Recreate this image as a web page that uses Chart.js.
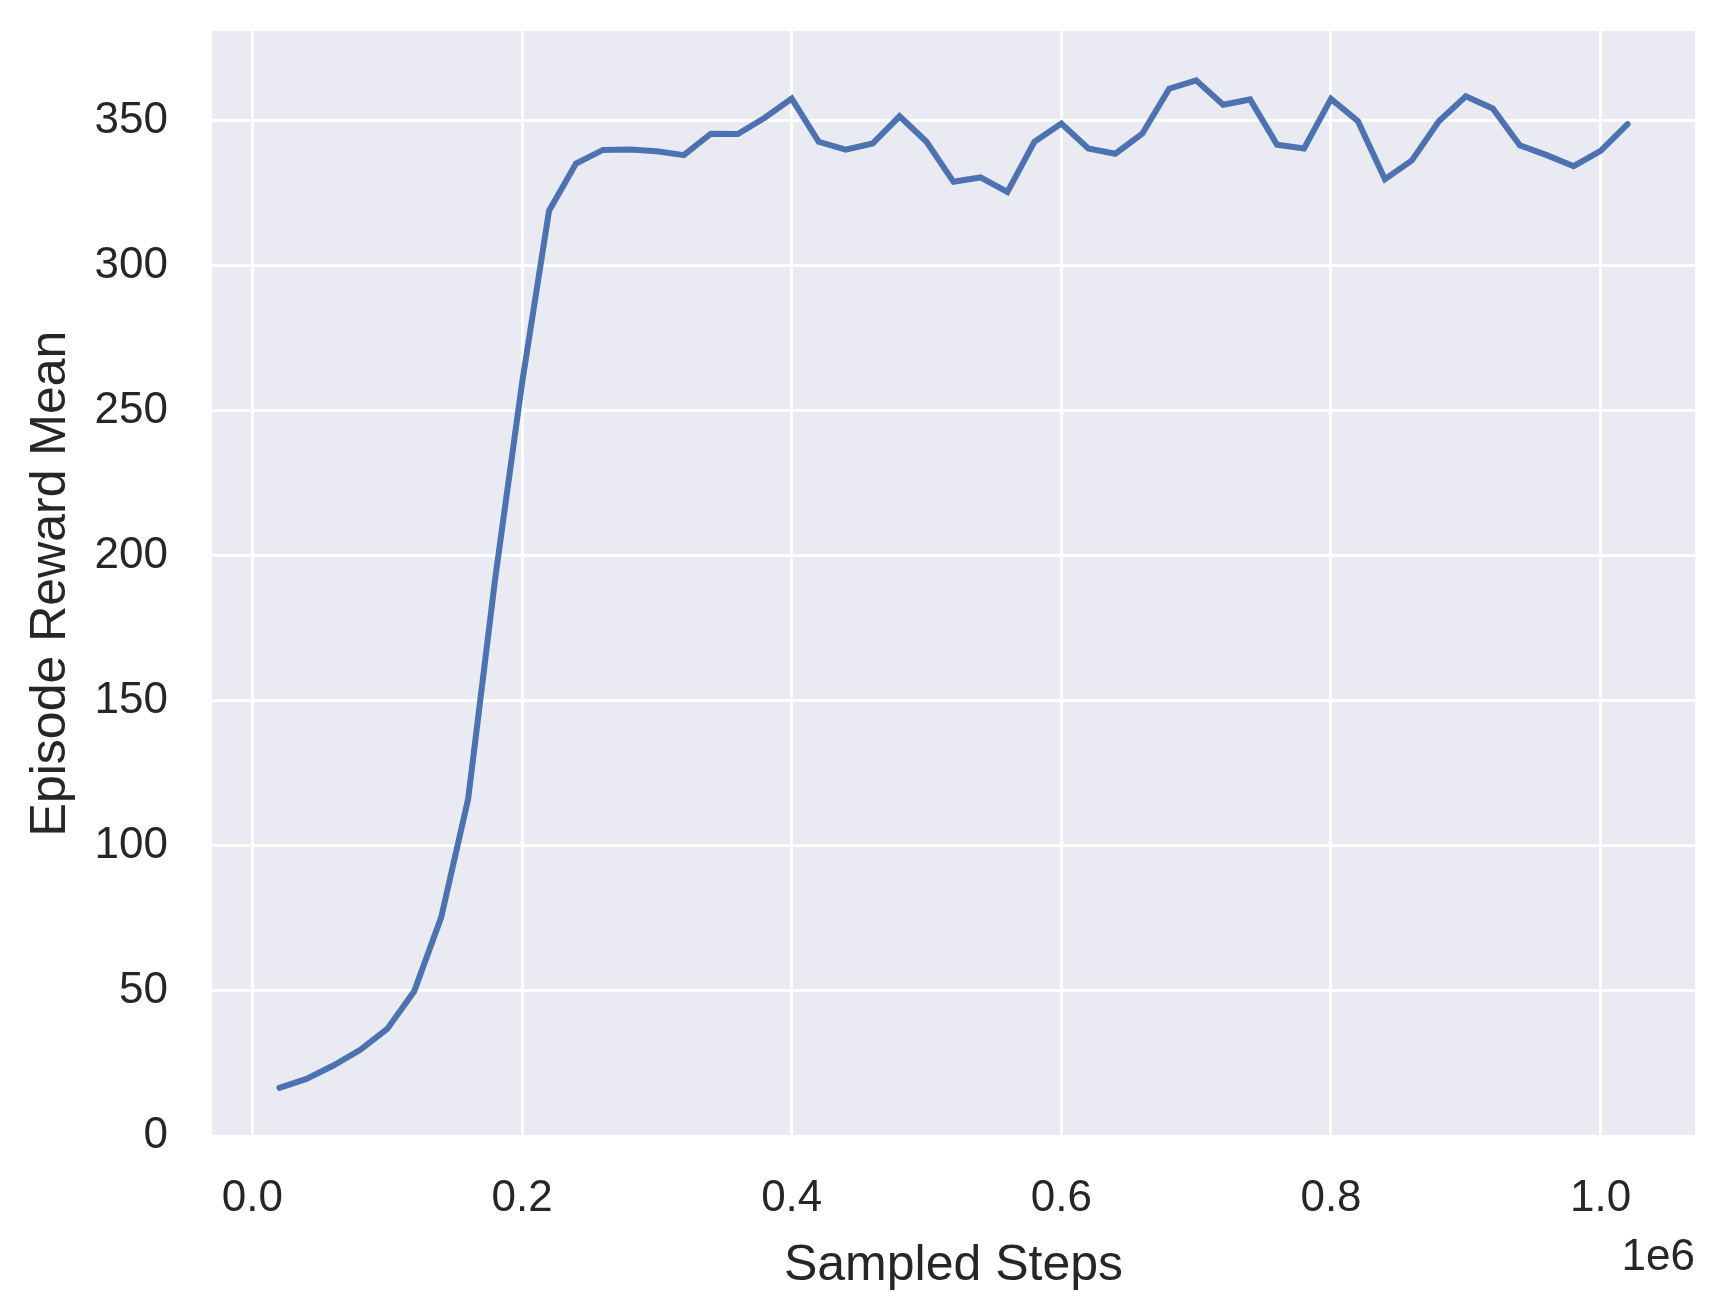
<!DOCTYPE html>
<html>
<head>
<meta charset="utf-8">
<script src="https://cdn.jsdelivr.net/npm/chart.js@4.4.1/dist/chart.umd.min.js"></script>
<style>
  html, body { margin: 0; padding: 0; background: #ffffff; }
  #wrap { width: 1726px; height: 1314px; }
</style>
</head>
<body>
<div id="wrap"><canvas id="c" width="1726" height="1314"></canvas></div>
<script>
// ---- data ----
const sampledSteps = [
  20000, 40000, 60000, 80000, 100000, 120000, 140000, 160000, 180000, 200000,
  220000, 240000, 260000, 280000, 300000, 320000, 340000, 360000, 380000, 400000,
  420000, 440000, 460000, 480000, 500000, 520000, 540000, 560000, 580000, 600000,
  620000, 640000, 660000, 680000, 700000, 720000, 740000, 760000, 780000, 800000,
  820000, 840000, 860000, 880000, 900000, 920000, 940000, 960000, 980000, 1000000,
  1020000
];
const episodeRewardMean = [
  16.6, 19.7, 24.3, 29.7, 36.9, 49.9, 75.4, 116.2, 192.0, 259.7,
  319.0, 335.3, 340.0, 340.1, 339.5, 338.2, 345.6, 345.5, 351.1, 357.7,
  342.8, 340.1, 342.2, 351.6, 342.8, 329.0, 330.5, 325.5, 342.8, 349.1,
  340.5, 338.7, 345.6, 361.1, 364.0, 355.6, 357.4, 341.8, 340.5, 357.6,
  349.9, 329.9, 336.4, 349.9, 358.5, 354.3, 341.6, 338.2, 334.4, 339.7,
  348.9
];
const xTickValues = [0, 200000, 400000, 600000, 800000, 1000000];
const yTickValues = [0, 50, 100, 150, 200, 250, 300, 350];
const xAxisTitle = 'Sampled Steps';
const yAxisTitle = 'Episode Reward Mean';
const xOffsetText = '1e6';

// ---- styling ----
const FONT = '"Liberation Sans", Arial, "DejaVu Sans", sans-serif';
const TEXT = '#262626';

const bgPlugin = {
  id: 'bg',
  beforeDraw(chart) {
    const { ctx, chartArea: a } = chart;
    ctx.save();
    ctx.fillStyle = '#EAEAF2';
    ctx.fillRect(a.left, a.top, a.right - a.left, a.bottom - a.top);
    ctx.restore();
  },
  afterDraw(chart) {
    const { ctx, chartArea: a } = chart;
    ctx.save();
    ctx.font = '44px ' + FONT;
    ctx.fillStyle = TEXT;
    ctx.textAlign = 'right';
    ctx.textBaseline = 'alphabetic';
    ctx.fillText(xOffsetText, a.right, a.bottom + 134);
    ctx.restore();
  }
};

function noPad(scale) {
  scale.paddingTop = 0;
  scale.paddingBottom = 0;
  scale.paddingLeft = 0;
  scale.paddingRight = 0;
}

new Chart(document.getElementById('c'), {
  type: 'line',
  data: {
    datasets: [{
      data: sampledSteps.map((s, i) => ({ x: s, y: episodeRewardMean[i] })),
      borderColor: '#4C72B0',
      borderWidth: 6,
      pointRadius: 0,
      fill: false,
      tension: 0,
      borderCapStyle: 'round',
      borderJoinStyle: 'miter'
    }]
  },
  options: {
    responsive: false,
    devicePixelRatio: 1,
    animation: false,
    layout: { padding: { top: 31, right: 31, left: 0, bottom: 0 } },
    plugins: { legend: { display: false }, tooltip: { enabled: false } },
    scales: {
      x: {
        type: 'linear',
        min: -30000,
        max: 1070000,
        afterBuildTicks(scale) { scale.ticks = xTickValues.map(v => ({ value: v })); },
        afterFit(scale) { scale.height = 178; noPad(scale); },
        border: { display: false },
        grid: { color: '#ffffff', lineWidth: 3, drawTicks: false },
        ticks: {
          padding: 36,
          color: TEXT,
          font: { family: FONT, size: 44 },
          maxRotation: 0,
          callback: v => (v / 1e6).toFixed(1)
        },
        title: {
          display: true,
          text: xAxisTitle,
          color: TEXT,
          font: { family: FONT, size: 50 },
          padding: { top: 0, bottom: 18 }
        }
      },
      y: {
        type: 'linear',
        min: 0,
        max: 381,
        afterBuildTicks(scale) { scale.ticks = yTickValues.map(v => ({ value: v })); },
        afterFit(scale) { scale.width = 212; noPad(scale); },
        border: { display: false },
        grid: { color: '#ffffff', lineWidth: 3, drawTicks: false },
        ticks: {
          padding: 44,
          color: TEXT,
          font: { family: FONT, size: 44 },
          callback: v => String(v)
        },
        title: {
          display: true,
          text: yAxisTitle,
          color: TEXT,
          font: { family: FONT, size: 50 },
          padding: { top: 21, bottom: 0 }
        }
      }
    }
  },
  plugins: [bgPlugin]
});
</script>
</body>
</html>
